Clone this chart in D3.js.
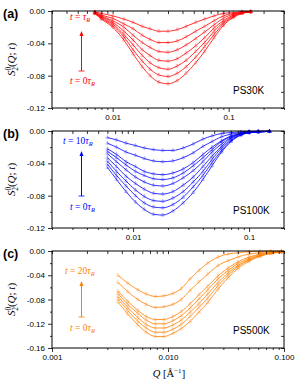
<!DOCTYPE html>
<html>
<head>
<meta charset="utf-8">
<script src="https://cdn.jsdelivr.net/npm/d3@7"></script>
<style>
  body { margin: 0; background: #fff; }
</style>
</head>
<body>
<div id="chart"></div>
<script>
// ---- data ----
// (a) PS30K, t = 0 .. tau_R  (deepest curve = t = 0)
const qA = [0.007, 0.008, 0.01, 0.0125, 0.015, 0.018, 0.021, 0.025, 0.03, 0.036, 0.043, 0.052, 0.062, 0.075, 0.09, 0.11, 0.13, 0.155];
const curvesA = [
  [-0.003, -0.010, -0.020, -0.036, -0.053, -0.069, -0.080, -0.088, -0.090, -0.086, -0.077, -0.064, -0.050, -0.033, -0.018, -0.008, -0.003, -0.001],
  [-0.003, -0.009, -0.018, -0.032, -0.048, -0.062, -0.072, -0.079, -0.081, -0.077, -0.069, -0.057, -0.044, -0.029, -0.016, -0.007, -0.003, -0.001],
  [-0.002, -0.008, -0.016, -0.029, -0.042, -0.055, -0.064, -0.070, -0.072, -0.068, -0.061, -0.050, -0.039, -0.025, -0.014, -0.006, -0.002, -0.001],
  [-0.002, -0.007, -0.014, -0.025, -0.036, -0.048, -0.055, -0.061, -0.062, -0.059, -0.052, -0.043, -0.033, -0.021, -0.012, -0.005, -0.002, -0.001],
  [-0.002, -0.006, -0.012, -0.020, -0.030, -0.039, -0.045, -0.050, -0.051, -0.048, -0.042, -0.034, -0.026, -0.017, -0.009, -0.004, -0.002, -0.001],
  [-0.001, -0.005, -0.009, -0.016, -0.022, -0.030, -0.035, -0.039, -0.039, -0.037, -0.032, -0.025, -0.019, -0.012, -0.006, -0.003, -0.001, -0.001],
  [-0.001, -0.003, -0.006, -0.010, -0.014, -0.019, -0.022, -0.025, -0.025, -0.023, -0.019, -0.014, -0.010, -0.006, -0.003, -0.002, -0.001, -0.0005]
];

// (b) PS100K, t = 0 .. 10 tau_R
const qB = [0.006, 0.0072, 0.0087, 0.0105, 0.0125, 0.015, 0.018, 0.022, 0.027, 0.033, 0.04, 0.048, 0.058, 0.07, 0.085, 0.1, 0.12, 0.15];
const curvesB = [
  [-0.045, -0.060, -0.075, -0.088, -0.097, -0.103, -0.104, -0.099, -0.089, -0.076, -0.060, -0.043, -0.026, -0.013, -0.005, -0.002, -0.001, -0.0005],
  [-0.041, -0.055, -0.068, -0.080, -0.089, -0.094, -0.095, -0.091, -0.082, -0.069, -0.055, -0.039, -0.024, -0.012, -0.005, -0.002, -0.001, -0.0005],
  [-0.037, -0.050, -0.062, -0.073, -0.081, -0.086, -0.087, -0.083, -0.075, -0.063, -0.050, -0.035, -0.021, -0.011, -0.004, -0.002, -0.001, -0.0004],
  [-0.033, -0.044, -0.056, -0.065, -0.072, -0.077, -0.078, -0.075, -0.067, -0.057, -0.044, -0.031, -0.019, -0.009, -0.004, -0.002, -0.001, -0.0004],
  [-0.028, -0.038, -0.048, -0.057, -0.063, -0.067, -0.068, -0.065, -0.058, -0.049, -0.038, -0.026, -0.016, -0.008, -0.003, -0.001, -0.001, -0.0004],
  [-0.025, -0.033, -0.042, -0.050, -0.055, -0.059, -0.060, -0.058, -0.052, -0.043, -0.033, -0.023, -0.013, -0.007, -0.003, -0.001, -0.001, -0.0003],
  [-0.022, -0.029, -0.038, -0.044, -0.050, -0.053, -0.054, -0.052, -0.047, -0.039, -0.029, -0.020, -0.012, -0.006, -0.003, -0.001, -0.001, -0.0003],
  [-0.015, -0.020, -0.026, -0.030, -0.034, -0.037, -0.038, -0.037, -0.033, -0.027, -0.019, -0.013, -0.007, -0.004, -0.002, -0.001, -0.0004, -0.0002],
  [-0.008, -0.011, -0.015, -0.018, -0.021, -0.023, -0.024, -0.024, -0.021, -0.016, -0.010, -0.006, -0.003, -0.002, -0.001, -0.0005, -0.0003, -0.0002]
];

// (c) PS500K, t = 0 .. 20 tau_R
const qC = [0.0037, 0.0045, 0.0055, 0.0065, 0.0078, 0.0092, 0.011, 0.013, 0.0155, 0.0185, 0.022, 0.027, 0.033, 0.04, 0.05, 0.062, 0.077, 0.095];
const curvesC = [
  [-0.084, -0.104, -0.122, -0.134, -0.141, -0.141, -0.136, -0.128, -0.116, -0.101, -0.085, -0.063, -0.044, -0.029, -0.017, -0.009, -0.004, -0.002],
  [-0.079, -0.098, -0.116, -0.127, -0.134, -0.134, -0.129, -0.121, -0.108, -0.093, -0.078, -0.057, -0.040, -0.026, -0.015, -0.008, -0.004, -0.002],
  [-0.075, -0.093, -0.110, -0.121, -0.127, -0.127, -0.122, -0.114, -0.101, -0.087, -0.071, -0.052, -0.036, -0.024, -0.014, -0.007, -0.003, -0.002],
  [-0.070, -0.088, -0.103, -0.114, -0.120, -0.120, -0.115, -0.107, -0.094, -0.079, -0.064, -0.046, -0.032, -0.021, -0.012, -0.006, -0.003, -0.001],
  [-0.066, -0.083, -0.098, -0.108, -0.113, -0.113, -0.108, -0.100, -0.087, -0.072, -0.058, -0.041, -0.028, -0.018, -0.010, -0.005, -0.002, -0.001],
  [-0.052, -0.067, -0.080, -0.088, -0.093, -0.092, -0.088, -0.080, -0.065, -0.051, -0.038, -0.024, -0.016, -0.010, -0.005, -0.003, -0.001, -0.001],
  [-0.040, -0.053, -0.064, -0.071, -0.075, -0.074, -0.070, -0.062, -0.046, -0.032, -0.020, -0.010, -0.005, -0.003, -0.001, -0.0005, -0.0003, -0.0001]
];

// tick values / labels
const xTicksAB = [0.01, 0.1];
const xLabelsAB = ['0.01', '0.1'];
const xTicksC = [0.001, 0.01, 0.1];
const xLabelsC = ['0.001', '0.010', '0.100'];
const yTicksAB = [0, -0.04, -0.08, -0.12];
const yTicksC = [0, -0.04, -0.08, -0.12, -0.16];

const samples = ['PS30K', 'PS100K', 'PS500K'];
const tEnd = ['', '10', '20'];
const letters = ['(a)', '(b)', '(c)'];

// ---- layout ----
const W = 297, H = 385;
const left = 52, right = 284, ph = 97;
const sans = '"Liberation Sans", Arial, sans-serif';
const serif = '"Liberation Serif", "Times New Roman", serif';

const svg = d3.select('#chart').append('svg')
  .attr('width', W).attr('height', H)
  .style('font-family', sans);

function tLabel(g, x, y, pre, color) {
  const t = g.append('text').attr('x', x).attr('y', y)
    .attr('fill', color).attr('font-family', serif).attr('font-size', 9.5);
  t.append('tspan').attr('font-style', 'italic').text('t');
  t.append('tspan').text(' = ' + pre);
  t.append('tspan').attr('font-style', 'italic').text('τ');
  t.append('tspan').attr('font-style', 'italic').attr('font-size', 6.5).attr('dy', 2).text('R');
}

function drawPanel(p) {
  const g = svg.append('g');
  const x = d3.scaleLog().domain(p.xDomain).range([left, right]);
  const y = d3.scaleLinear().domain(p.yDomain).range([p.top + ph, p.top]);
  const bottom = p.top + ph;

  // curves + data markers
  const line = d3.line().x((d, i) => x(p.q[i])).y(d => y(d)).curve(d3.curveMonotoneX);
  const markerColor = d3.color(p.color).copy({ opacity: 0.4 });
  p.curves.forEach(c => {
    const pts = g.append('g');
    c.forEach((v, i) => {
      pts.append('line')
        .attr('x1', x(p.q[i])).attr('x2', x(p.q[i]))
        .attr('y1', y(v) - 1.8).attr('y2', y(v) + 1.8)
        .attr('stroke', markerColor).attr('stroke-width', 0.5);
      pts.append('path')
        .attr('d', d3.symbol(d3.symbolTriangle, 5)())
        .attr('transform', `translate(${x(p.q[i])},${y(v)})`)
        .attr('fill', 'none').attr('stroke', markerColor).attr('stroke-width', 0.5);
    });
    g.append('path').attr('d', line(c))
      .attr('fill', 'none').attr('stroke', p.color).attr('stroke-width', 0.8);
  });

  // axes
  const yMinor = d3.range(p.yDomain[0] + 0.02, 0, 0.04);
  const xMinor = x.ticks().filter(v => !p.xTicks.some(t => Math.abs(t - v) < 1e-9));

  const bottomAxis = g.append('g').attr('transform', `translate(0,${bottom})`)
    .call(d3.axisBottom(x).tickValues(p.xTicks).tickFormat((d, i) => p.xLabels[i]).tickSize(4).tickSizeOuter(0));
  g.append('g').attr('transform', `translate(0,${bottom})`)
    .call(d3.axisBottom(x).tickValues(xMinor).tickFormat('').tickSize(2).tickSizeOuter(0));
  g.append('g').attr('transform', `translate(0,${p.top})`)
    .call(d3.axisBottom(x).tickValues(p.xTicks.concat(xMinor)).tickFormat('').tickSize(3).tickSizeOuter(0));

  g.append('g').attr('transform', `translate(${left},0)`)
    .call(d3.axisLeft(y).tickValues(p.yTicks).tickFormat(d => d.toFixed(2)).tickSize(4).tickSizeOuter(0));
  g.append('g').attr('transform', `translate(${left},0)`)
    .call(d3.axisLeft(y).tickValues(yMinor).tickFormat('').tickSize(2).tickSizeOuter(0));
  g.append('g').attr('transform', `translate(${right},0)`)
    .call(d3.axisLeft(y).tickValues(p.yTicks.concat(yMinor)).tickFormat('').tickSize(3).tickSizeOuter(0));

  g.selectAll('.domain').remove();
  g.selectAll('.tick line').attr('stroke', '#000').attr('stroke-width', 0.8);
  g.selectAll('.tick text').attr('font-family', sans).attr('font-size', 8).attr('fill', '#000');
  bottomAxis.selectAll('.tick text').attr('y', 6);

  g.append('rect').attr('x', left).attr('y', p.top)
    .attr('width', right - left).attr('height', ph)
    .attr('fill', 'none').attr('stroke', '#000').attr('stroke-width', 1);

  // panel letter
  g.append('text').attr('x', 3).attr('y', p.top + 6.5)
    .attr('font-size', 12.5).attr('font-weight', 'bold').text(p.letter);

  // y title
  const yt = g.append('text')
    .attr('transform', `translate(15,${p.top + ph / 2}) rotate(-90)`)
    .attr('text-anchor', 'middle').attr('font-family', serif).attr('font-size', 11);
  yt.append('tspan').attr('font-style', 'italic').text('S');
  yt.append('tspan').attr('font-size', 7.5).attr('dy', -4.5).text('0');
  yt.append('tspan').attr('font-size', 7.5).attr('dx', -4).attr('dy', 7.5).text('2');
  yt.append('tspan').attr('dy', -3).text('(');
  yt.append('tspan').attr('font-style', 'italic').text('Q');
  yt.append('tspan').text('; ');
  yt.append('tspan').attr('font-style', 'italic').text('t');
  yt.append('tspan').text(')');

  // time arrow
  tLabel(g, p.tTop[0], p.tTop[1], p.endLabel, p.color);
  tLabel(g, 70, p.tBottom, '0', p.color);
  g.append('line').attr('x1', 81.5).attr('x2', 81.5)
    .attr('y1', p.arrow[1]).attr('y2', p.arrow[0] + 3)
    .attr('stroke', p.color).attr('stroke-width', 1);
  g.append('line').attr('x1', 78.5).attr('x2', 84.5)
    .attr('y1', p.arrow[1]).attr('y2', p.arrow[1])
    .attr('stroke', p.color).attr('stroke-width', 0.8);
  g.append('path')
    .attr('d', `M81.5,${p.arrow[0]} L79.5,${p.arrow[0] + 5} L83.5,${p.arrow[0] + 5} Z`)
    .attr('fill', p.color);

  // sample name
  g.append('text').attr('x', 233).attr('y', p.top + 83)
    .attr('font-size', 10).attr('fill', '#000').text(p.sample);
}

drawPanel({
  top: 11, xDomain: [0.003, 0.3], yDomain: [-0.12, 0], q: qA, curves: curvesA,
  color: '#ff0000', xTicks: xTicksAB, xLabels: xLabelsAB, yTicks: yTicksAB,
  letter: letters[0], sample: samples[0], endLabel: tEnd[0],
  tTop: [70, 20], tBottom: 84, arrow: [31, 71]
});
drawPanel({
  top: 131, xDomain: [0.002, 0.2], yDomain: [-0.12, 0], q: qB, curves: curvesB,
  color: '#0000ff', xTicks: xTicksAB, xLabels: xLabelsAB, yTicks: yTicksAB,
  letter: letters[1], sample: samples[1], endLabel: tEnd[1],
  tTop: [63, 144], tBottom: 210, arrow: [151, 196]
});
drawPanel({
  top: 251, xDomain: [0.001, 0.1], yDomain: [-0.16, 0], q: qC, curves: curvesC,
  color: '#ff7f00', xTicks: xTicksC, xLabels: xLabelsC, yTicks: yTicksC,
  letter: letters[2], sample: samples[2], endLabel: tEnd[2],
  tTop: [65, 274], tBottom: 331, arrow: [281, 317]
});

// x title
const xt = svg.append('text').attr('x', 169).attr('y', 377)
  .attr('text-anchor', 'middle').attr('font-family', serif).attr('font-size', 10.5);
xt.append('tspan').attr('font-style', 'italic').text('Q');
xt.append('tspan').text('  [Å');
xt.append('tspan').attr('font-size', 7).attr('dy', -4).text('−1');
xt.append('tspan').attr('dy', 4).text(']');
</script>
</body>
</html>
